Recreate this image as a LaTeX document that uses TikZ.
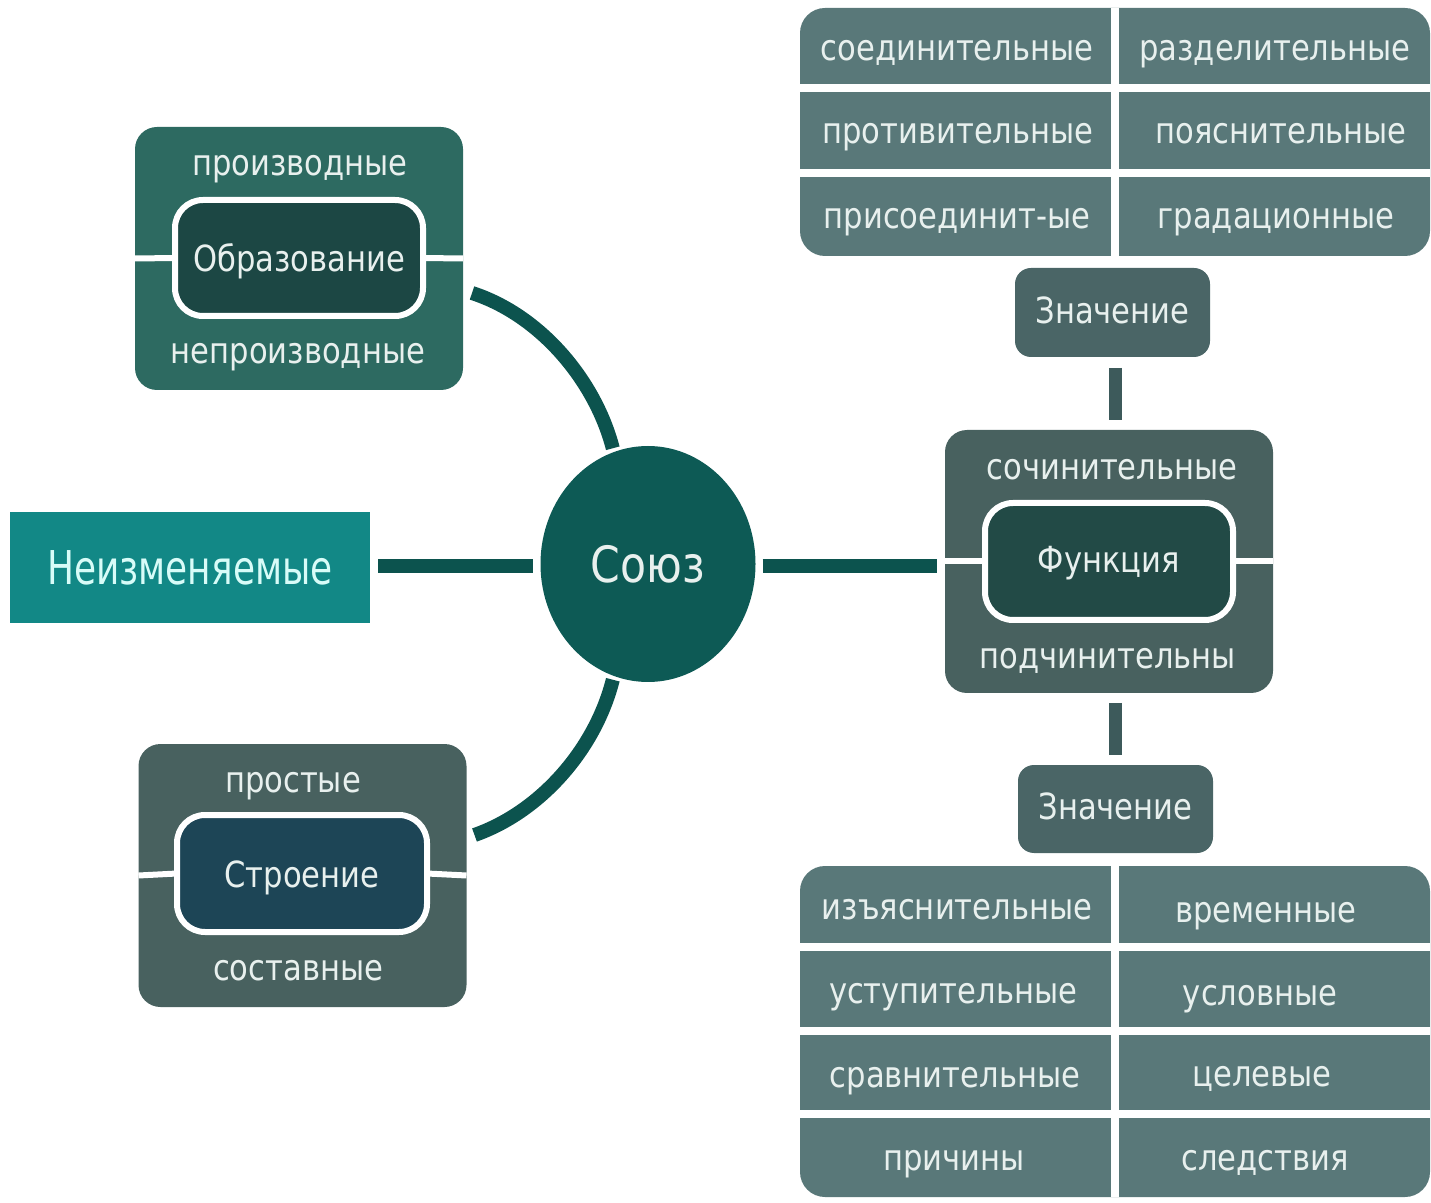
\documentclass[tikz,border=0pt]{standalone}
\usepackage{fontspec}
\setmainfont{DejaVu Sans}[FakeStretch=0.85]
\newfontfamily\condfont{DejaVu Sans}[FakeStretch=0.77]
\usetikzlibrary{shapes.geometric}
\definecolor{greenbox}{HTML}{2D6A61}
\definecolor{greenin}{HTML}{1C4744}
\definecolor{tealbox}{HTML}{128886}
\definecolor{tealtxt}{HTML}{D8FCF8}
\definecolor{circ}{HTML}{0D5A55}
\definecolor{conn}{HTML}{0C534E}
\definecolor{slate}{HTML}{48615F}
\definecolor{funin}{HTML}{224A46}
\definecolor{strin}{HTML}{1D4556}
\definecolor{znach}{HTML}{4A6566}
\definecolor{grid}{HTML}{597879}
\definecolor{conn2}{HTML}{3D5A5B}
\definecolor{txt}{HTML}{E8F0EE}
\begin{document}
\begin{tikzpicture}[x=0.5pt,y=-0.5pt,
  every node/.style={inner sep=0pt, outer sep=0pt},
  lbl/.style={text=txt, font=\fontsize{18}{21}\selectfont, text height=12.85pt, text depth=0pt},
  outerbox/.style={rounded corners=11pt, minimum width=164pt, minimum height=131.5pt},
  innerbox/.style={rounded corners=14pt, draw=white, line width=3pt, minimum width=124pt, minimum height=58pt,
    text=txt, font=\fontsize{18}{21}\selectfont, text height=13.85pt, text depth=0pt},
  znbox/.style={fill=znach, rounded corners=8pt, minimum width=97.5pt, minimum height=44.5pt,
    text=txt, font=\fontsize{18}{21}\selectfont, text height=10.85pt, text depth=0pt},
  gridbox/.style={fill=grid, rounded corners=12.5pt, minimum width=315pt},
  sep/.style={white, line width=4pt},
  cut/.style={white, line width=3pt},
  thick conn/.style={conn, line width=7pt},
  slate conn/.style={conn2, line width=6.5pt}
]
\useasboundingbox (0,0) rectangle (1431,1203);

% ---- Образование
\node[outerbox, fill=greenbox] (obr) at (299,258.5) {};
\node[innerbox, fill=greenin] (obri) at (299,258) {Образование};
\draw[cut] (obr.west) -- (obri.west);
\draw[cut] (obri.east) -- (obr.east);
\node[lbl] (proizv) at (300,163) {производные};
\node[lbl] (neproizv) at (298,351) {непроизводные};

% ---- Строение
\node[outerbox, fill=slate] (str) at (302.5,875.5) {};
\node[innerbox, fill=strin, minimum width=125pt, minimum height=58.5pt] (stri) at (302,873.5) {Строение};
\draw[cut] (str.west) -- (stri.west);
\draw[cut] (stri.east) -- (str.east);
\node[lbl] (prost) at (293,780) {простые};
\node[lbl] (sost) at (298,968) {составные};

% ---- Неизменяемые
\node[fill=tealbox, minimum width=180pt, minimum height=55.5pt, text=tealtxt,
      font=\condfont\fontsize{23.3}{26}\selectfont] (neiz) at (190,567.5) {Неизменяемые};

% ---- Союз
\node[ellipse, fill=circ, minimum width=107.5pt, minimum height=118pt, text=txt,
      font=\fontsize{25}{28}\selectfont] (soyuz) at (648,564) {Союз};

% ---- Функция
\node[outerbox, fill=slate] (fun) at (1109,561.5) {};
\node[innerbox, fill=funin, minimum height=58.5pt, text height=11pt] (funi) at (1109,561.5) {Функция};
\draw[cut] (fun.west) -- (funi.west);
\draw[cut] (funi.east) -- (fun.east);
\node[lbl] (sochin) at (1112,467) {сочинительные};
\node[lbl] (podchin) at (1108,656) {подчинительны};

% ---- Значение
\node[znbox] (zn1) at (1112.5,312.5) {Значение};
\node[znbox, minimum height=44pt] (zn2) at (1115.5,809) {Значение};

% ---- top grid
\node[gridbox, minimum height=124pt] (gtop) at (1115,132) {};
\draw[sep] (gtop.north) -- (gtop.south);
\draw[sep] (gtop.west |- 0,88) -- (gtop.east |- 0,88);
\draw[sep] (gtop.west |- 0,173) -- (gtop.east |- 0,173);
\node[lbl] (t11) at (957,48) {соединительные};
\node[lbl] (t12) at (1275,48) {разделительные};
\node[lbl] (t21) at (958,131) {противительные};
\node[lbl] (t22) at (1281,131) {пояснительные};
\node[lbl] (t31) at (957,216) {присоединит-ые};
\node[lbl] (t32) at (1276,216) {градационные};

% ---- bottom grid
\node[gridbox, minimum height=165.5pt] (gbot) at (1115,1031.5) {};
\draw[sep] (gbot.north) -- (gbot.south);
\draw[sep] (gbot.west |- 0,947) -- (gbot.east |- 0,947);
\draw[sep] (gbot.west |- 0,1031) -- (gbot.east |- 0,1031);
\draw[sep] (gbot.west |- 0,1114) -- (gbot.east |- 0,1114);
\node[lbl] (b11) at (957,907) {изъяснительные};
\node[lbl] (b12) at (1266,910) {временные};
\node[lbl] (b21) at (953,991) {уступительные};
\node[lbl] (b22) at (1260,993) {условные};
\node[lbl] (b31) at (955,1075) {сравнительные};
\node[lbl] (b32) at (1262,1074) {целевые};
\node[lbl] (b41) at (954,1158) {причины};
\node[lbl] (b42) at (1265,1158) {следствия};

% ---- connectors
\draw[thick conn, shorten <=4pt, shorten >=4pt] (neiz.east |- 0,566) -- (soyuz.west |- 0,566);
\draw[thick conn, shorten <=3.5pt, shorten >=4pt] (soyuz.east |- 0,566) -- (fun.west |- 0,566);
\draw[thick conn, shorten >=2pt] ([shift={(9,34.5)}]obr.east)
   .. controls (540,315) and (595,380) .. (soyuz.107);
\draw[thick conn, shorten >=2pt] ([shift={(8,-40.5)}]str.east)
   .. controls (540,812) and (595,750) .. (soyuz.253);
\draw[slate conn, shorten <=5.5pt, shorten >=5pt] (zn1.south -| 1115,0) -- (fun.north -| 1115,0);
\draw[slate conn, shorten <=5pt, shorten >=5pt] (fun.south -| 1115,0) -- (zn2.north -| 1115,0);
\end{tikzpicture}
\end{document}
